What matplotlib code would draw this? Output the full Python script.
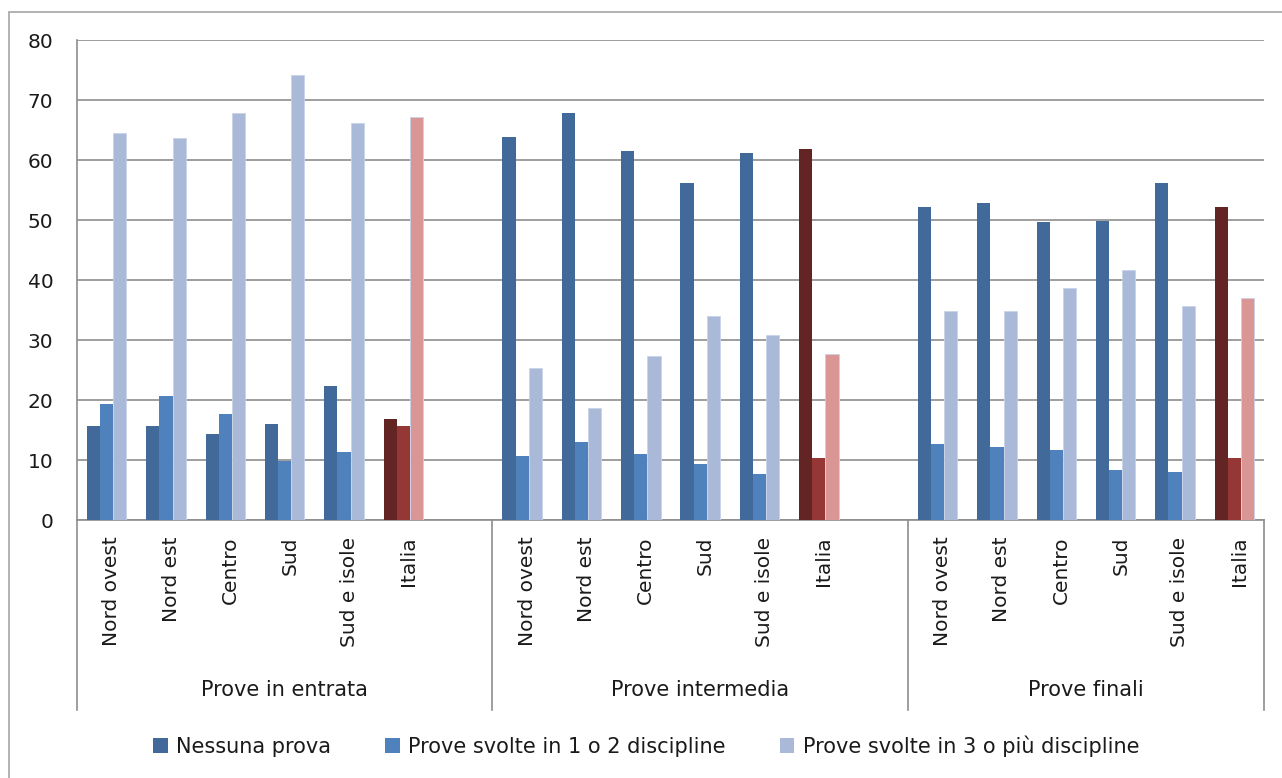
import matplotlib
matplotlib.use("Agg")
import matplotlib.pyplot as plt
from matplotlib.patches import Rectangle, Patch
from matplotlib.transforms import ScaledTranslation
import numpy as np

# ---- data -------------------------------------------------------------
groups = ["Prove in entrata", "Prove intermedia", "Prove finali"]
regions = ["Nord ovest", "Nord est", "Centro", "Sud", "Sud e isole", "Italia"]
series_names = [
    "Nessuna prova",
    "Prove svolte in 1 o 2 discipline",
    "Prove svolte in 3 o più discipline",
]

nessuna = [
    15.7, 15.7, 14.3, 16.0, 22.3, 16.8,
    63.9, 67.9, 61.5, 56.2, 61.2, 61.9,
    52.2, 52.9, 49.6, 49.9, 56.2, 52.2,
]
una_due = [
    19.3, 20.7, 17.6, 9.9, 11.3, 15.7,
    10.7, 13.0, 11.0, 9.4, 7.7, 10.4,
    12.7, 12.1, 11.7, 8.3, 8.0, 10.4,
]
tre_piu = [
    64.5, 63.6, 67.9, 74.2, 66.2, 67.2,
    25.3, 18.7, 27.3, 34.0, 30.9, 27.7,
    34.9, 34.9, 38.6, 41.7, 35.6, 37.0,
]
y_ticks = [0, 10, 20, 30, 40, 50, 60, 70, 80]

# ---- styling ------------------------------------------------------------
blues = ["#41699A", "#4F81BD", "#AAB9D7"]
reds = ["#632523", "#953735", "#D99694"]
grid_col = "#8E8E8E"

plt.rcParams["font.family"] = ["DejaVu Sans"]

W, H = 1282, 778
fig = plt.figure(figsize=(W / 100, H / 100), dpi=100)
fig.patch.set_facecolor("white")

# outer chart frame
fig.add_artist(Rectangle((9 / W, -0.05), 1.2, 1 - 12 / H + 0.05,
                         transform=fig.transFigure, fill=False,
                         edgecolor="#A6A6A6", linewidth=1.2))

ax = fig.add_axes([77 / W, 1 - 520 / H, 1187 / W, 480 / H])

# category slots: each group of six regions is followed by an empty slot
n_reg = len(regions)
positions = []
for g in range(len(groups)):
    for r in range(n_reg):
        positions.append(g * (n_reg + 1) + r)
positions = np.array(positions, dtype=float)

bw = 0.222
offsets = [-bw, 0.0, bw]
values = [nessuna, una_due, tre_piu]
for s in range(3):
    cols = [reds[s] if regions[i % n_reg] == "Italia" else blues[s]
            for i in range(len(positions))]
    edge = "#C9D3E8" if s == 2 else "none"
    ax.bar(positions + offsets[s], values[s], width=bw, color=cols,
           edgecolor=edge, linewidth=0.6 if s == 2 else 0, zorder=3)

ax.set_xlim(-0.5, 19.5)
ax.set_ylim(0, 80)
ax.set_yticks(y_ticks)
ax.yaxis.grid(True, color=grid_col, linewidth=1.2, zorder=0)
ax.set_axisbelow(True)
ax.tick_params(axis="y", length=0, pad=17, labelsize=14.5, labelcolor="#1A1A1A")

ax.set_xticks(positions)
ax.set_xticklabels([regions[i % n_reg] for i in range(len(positions))],
                   rotation=90, va="top", ha="center")
ax.tick_params(axis="x", length=0, pad=12, labelsize=14.5, labelcolor="#1A1A1A")
shift = ScaledTranslation(5 / 100, 0, fig.dpi_scale_trans)
for lab in ax.get_xticklabels():
    lab.set_transform(lab.get_transform() + shift)

for side in ["top", "right"]:
    ax.spines[side].set_visible(False)
for side in ["left", "bottom"]:
    ax.spines[side].set_color(grid_col)
    ax.spines[side].set_linewidth(1.2)

# group separators and group labels below the category axis
xtr = ax.get_xaxis_transform()
sep_bottom = -(710 - 520) / 480
for xb in [-0.5, 6.5, 13.5, 19.5]:
    ax.plot([xb, xb], [0, sep_bottom], transform=xtr, color=grid_col,
            linewidth=1.2, clip_on=False)
group_y = -(690 - 520) / 480
for g, name in enumerate(groups):
    start = g * (n_reg + 1) - 0.5
    end = start + n_reg + (1 if g < len(groups) - 1 else 0)
    ax.text((start + end) / 2, group_y, name, transform=xtr, ha="center",
            va="center", fontsize=15, color="#1A1A1A")

handles = [Patch(facecolor=c, edgecolor="none") for c in blues]
fig.legend(handles, series_names, loc="center", ncol=3,
           bbox_to_anchor=(646 / W, 1 - 746 / H), frameon=False,
           fontsize=15, handlelength=0.7, handleheight=0.7,
           handletextpad=0.4, columnspacing=2.6, labelcolor="#1A1A1A")

fig.savefig("out.png", dpi=100, facecolor="white")
